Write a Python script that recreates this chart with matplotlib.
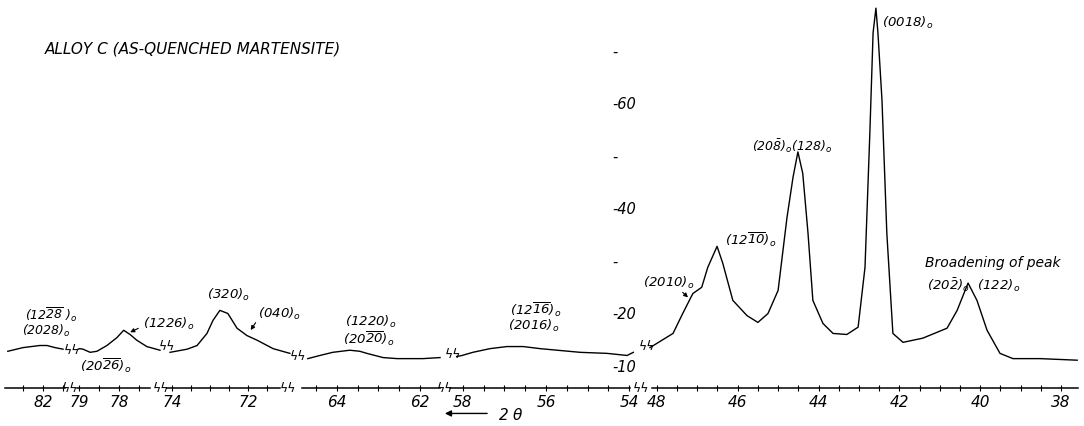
import numpy as np
import matplotlib.pyplot as plt

plt.rcParams['mathtext.fontset'] = 'custom'
plt.rcParams['mathtext.rm'] = 'DejaVu Sans:italic'
plt.rcParams['mathtext.it'] = 'DejaVu Sans:italic'
plt.rcParams['mathtext.default'] = 'rm'

# donnees : 2theta (deg) et intensite, un tableau par troncon
seg_a_deg = [82.88, 82.5, 82.08, 81.9, 81.7, 81.5]
seg_a_int = [13.0, 13.7, 14.1, 14.1, 13.7, 13.4]

seg_b_deg = [79.02, 78.98, 78.9, 78.72, 78.55, 78.3, 78.05, 77.88, 77.72, 77.55, 77.3, 76.97]
seg_b_int = [13.4, 13.5, 13.4, 12.8, 13.0, 14.1, 15.6, 17.0, 16.2, 15.1, 13.9, 13.2]

seg_c_deg = [74.05, 73.6, 73.34, 73.08, 72.92, 72.74, 72.53, 72.29, 72.03, 71.76, 71.34, 70.9]
seg_c_int = [12.8, 13.4, 14.1, 16.4, 18.9, 20.8, 20.2, 17.4, 16.0, 15.1, 13.5, 12.6]

seg_d_deg = [64.7, 64.41, 64.1, 63.69, 63.45, 63.28, 62.89, 62.55, 61.93, 61.52]
seg_d_int = [11.6, 12.2, 12.8, 13.2, 13.0, 12.6, 11.8, 11.6, 11.6, 11.8]

seg_e_deg = [58.15, 58.02, 57.76, 57.35, 56.94, 56.55, 56.14, 55.73, 55.18, 54.53, 54.05, 53.9]
seg_e_int = [12.0, 12.2, 12.8, 13.5, 13.9, 13.9, 13.5, 13.2, 12.8, 12.6, 12.2, 12.8]

seg_f_deg = [48.17, 47.6, 47.36, 47.11, 46.89, 46.74, 46.51, 46.37, 46.12, 45.77, 45.5,
             45.25, 45.0, 44.78, 44.63, 44.51, 44.39, 44.26, 44.14, 43.89, 43.64, 43.3,
             43.02, 42.85, 42.73, 42.65, 42.58, 42.53, 42.43, 42.31, 42.16, 41.91, 41.42,
             40.82, 40.57, 40.3, 40.08, 39.83, 39.51, 39.19, 38.52, 37.6]
seg_f_int = [13.7, 16.4, 20.2, 24.0, 25.2, 29.0, 33.0, 29.8, 22.7, 19.8, 18.5,
             20.2, 24.6, 38.5, 46.2, 51.0, 46.9, 35.5, 22.7, 18.3, 16.4, 16.2,
             17.6, 29.0, 54.6, 73.7, 78.4, 73.7, 60.9, 35.5, 16.4, 14.7, 15.5,
             17.4, 20.8, 26.0, 22.7, 17.0, 12.6, 11.6, 11.6, 11.3]

# graduations de chaque troncon
seg_a_ticks = [82]
seg_b_ticks = [79, 78]
seg_c_ticks = [74, 72]
seg_d_ticks = [64, 62]
seg_e_ticks = [58, 56, 54]
seg_f_ticks = [48, 46, 44, 42, 40, 38]

y_labels = [10, 20, 40, 60]
y_dashes = [30, 50, 70]

W, H = 1084, 426
fig = plt.figure(figsize=(W / 100, H / 100), dpi=100)

bas = (H - 388) / H
haut = (H - 2.4) / H

# (donnees, graduations, limites en 2theta, position en pixels)
troncons = [
    (seg_a_deg, seg_a_int, seg_a_ticks, (82.95, 81.45), (5, 65)),
    (seg_b_deg, seg_b_int, seg_b_ticks, (79.05, 77.22), (77, 150)),
    (seg_c_deg, seg_c_int, seg_c_ticks, (74.13, 71.16), (167, 280)),
    (seg_d_deg, seg_d_int, seg_d_ticks, (64.84, 61.52), (302, 440)),
    (seg_e_deg, seg_e_int, seg_e_ticks, (58.31, 53.98), (450, 630)),
    (seg_f_deg, seg_f_int, seg_f_ticks, (48.12, 37.58), (652, 1078)),
]

axes = []
for deg, inten, ticks, lim, px in troncons:
    ax = fig.add_axes([px[0] / W, bas, (px[1] - px[0]) / W, haut - bas])
    ax.plot(deg, inten, color='black', lw=1.0, clip_on=False)
    ax.set_xlim(lim)
    ax.set_ylim(6, 79.5)
    for s in ['left', 'right', 'top']:
        ax.spines[s].set_visible(False)
    ax.spines['bottom'].set_linewidth(1.1)
    ax.set_xticks(ticks)
    ax.set_xticklabels([str(t) for t in ticks], fontstyle='italic')
    ax.set_xticks(np.arange(np.ceil(lim[1] * 2) / 2, lim[0], 0.5), minor=True)
    ax.tick_params(axis='x', which='both', direction='inout', length=4, width=0.8,
                   labelsize=11, pad=3)
    ax.set_yticks([])
    ax.patch.set_visible(False)
    axes.append(ax)

ax_a, ax_b, ax_c, ax_d, ax_e, ax_f = axes

fs = 9.5
fleche = dict(arrowstyle='-|>', lw=0.8, color='black', mutation_scale=6)
# etiquettes des pics
ax_a.text(82.45, 20.0, r"$(12\overline{28}\ )_{o}$", fontsize=9, va='center')
ax_a.text(82.52, 16.9, r"$(2028)_{o}$", fontsize=9, va='center')
ax_b.text(78.97, 10.3, r"$(20\overline{26})_{o}$", fontsize=fs, va='center')
ax_b.text(77.4, 18.3, r"$(1226)_{o}$", fontsize=fs, va='center')
ax_b.annotate('', xy=(77.78, 16.4), xytext=(77.45, 17.6), annotation_clip=False,
              arrowprops=fleche)
ax_c.text(73.08, 23.7, r"$(320)_{o}$", fontsize=fs, va='center')
ax_c.text(71.74, 20.2, r"$(040)_{o}$", fontsize=fs, va='center')
ax_c.annotate('', xy=(71.97, 16.6), xytext=(71.76, 18.9), annotation_clip=False,
              arrowprops=fleche)
ax_d.text(63.81, 18.6, r"$(1220)_{o}$", fontsize=fs, va='center')
ax_d.text(63.86, 15.4, r"$(20\overline{20})_{o}$", fontsize=fs, va='center')
ax_e.text(56.87, 20.9, r"$(12\overline{16})_{o}$", fontsize=fs, va='center')
ax_e.text(56.92, 17.8, r"$(2016)_{o}$", fontsize=fs, va='center')
ax_f.text(48.35, 26.1, r"$(2010)_{o}$", fontsize=fs, va='center')
ax_f.annotate('', xy=(47.18, 22.9), xytext=(47.41, 24.6), annotation_clip=False,
              arrowprops=fleche)
ax_f.text(46.32, 34.2, r"$(12\overline{10})_{o}$", fontsize=fs, va='center')
ax_f.text(45.65, 52.1, r"$(20\bar{8})_{o}(128)_{o}$", fontsize=fs - 0.5, va='center')
ax_f.text(42.43, 75.5, r"$(0018)_{o}$", fontsize=fs, va='center')
ax_f.text(41.37, 29.8, "Broadening of peak", fontsize=10, style='italic', va='center')
ax_f.text(41.32, 25.6, r"$(20\bar{2})_{o}\ \ (122)_{o}$", fontsize=fs, va='center')

# echelle des intensites au milieu de la figure
for v in y_labels:
    ax_e.text(54.41, v, "-%d" % v, fontsize=10.5, style='italic', va='center')
for v in y_dashes:
    ax_e.text(54.41, v, "-", fontsize=10.5, va='center')

# fleche 2 theta
ax_e.annotate('', xy=(58.5, 1.15), xytext=(57.35, 1.15), annotation_clip=False,
              arrowprops=dict(arrowstyle='-|>', lw=1.0, color='black', mutation_scale=9))
ax_e.text(57.16, 0.8, r"$2\ \theta$", fontsize=11, va='center')

fig.text(45 / W, 1 - 49 / H, "ALLOY C (AS-QUENCHED MARTENSITE)", fontsize=11,
         style='italic', va='center')

# coupures sur la courbe et sur l'axe
for x, y in [(72, 350), (167, 347), (298, 356), (453, 355), (647, 347),
             (70, 388), (161, 388), (288, 388), (445, 388), (641, 388)]:
    fig.text(x / W, 1 - y / H, "ϟϟ", fontsize=9, ha='center', va='center')

plt.savefig("out.png", dpi=100)
